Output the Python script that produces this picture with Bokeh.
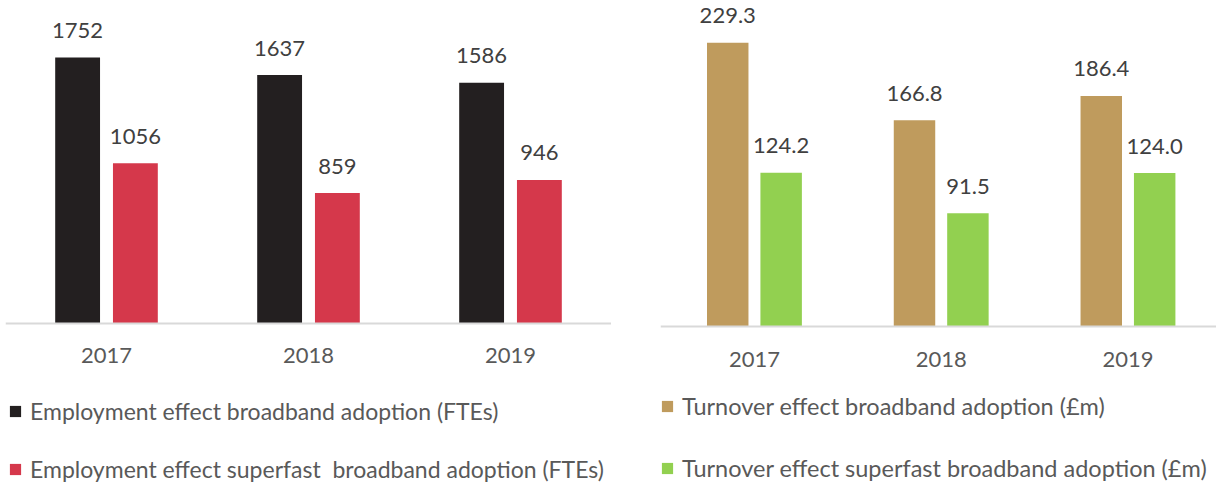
import numpy as np
from bokeh.plotting import figure
from bokeh.layouts import row
from bokeh.models import Range1d, FixedTicker, Legend, LegendItem, ColumnDataSource
from bokeh.core.properties import value
from bokeh.embed import file_html
from bokeh.resources import INLINE

# ---- data ----
years = ["2017", "2018", "2019"]
emp_broadband = [1752, 1637, 1586]
emp_superfast = [1056, 859, 946]
turn_broadband = [229.3, 166.8, 186.4]
turn_superfast = [124.2, 91.5, 124.0]
emp_names = ["Employment effect broadband adoption (FTEs)",
             "Employment effect superfast  broadband adoption (FTEs)"]
turn_names = ["Turnover effect broadband adoption (£m)",
              "Turnover effect superfast broadband adoption (£m)"]

FONT = "Lato"


def make_chart(width, left_border, xr, yr, s1, s2, colors, names, fmt,
               tick_standoff, spacing, leg_loc, leg_size):
    p = figure(width=width, height=483, output_backend="svg", toolbar_location=None,
               x_range=Range1d(*xr), y_range=Range1d(*yr),
               y_axis_location=None, min_border_top=0, min_border_left=left_border,
               min_border_right=0, min_border_bottom=0)
    p.outline_line_color = None
    p.xgrid.visible = False
    p.ygrid.visible = False
    idx = np.arange(len(years))
    off, w = 0.143, 0.222
    src = ColumnDataSource(dict(x1=idx - off, x2=idx + off, v1=s1, v2=s2,
                                t1=[fmt.format(v) for v in s1],
                                t2=[fmt.format(v) for v in s2]))
    r1 = p.vbar(x="x1", top="v1", width=w, bottom=0, source=src,
                fill_color=colors[0], line_color=None)
    r2 = p.vbar(x="x2", top="v2", width=w, bottom=0, source=src,
                fill_color=colors[1], line_color=None)
    for xc, yc, tc in (("x1", "v1", "t1"), ("x2", "v2", "t2")):
        p.text(x=xc, y=yc, text=tc, source=src, text_align="center",
               text_baseline="alphabetic", y_offset=-27,
               text_font=value(FONT), text_font_size="22px", text_color="#404040")
    ax = p.xaxis[0]
    ax.fixed_location = 0
    ax.ticker = FixedTicker(ticks=list(idx))
    ax.major_label_overrides = {int(i): y for i, y in zip(idx, years)}
    ax.axis_line_color = "#d9d9d9"
    ax.axis_line_width = 2
    ax.major_tick_line_color = None
    ax.minor_tick_line_color = None
    ax.major_tick_out = 0
    ax.major_tick_in = 0
    ax.major_label_standoff = tick_standoff
    ax.major_label_text_font = FONT
    ax.major_label_text_font_size = "22px"
    ax.major_label_text_color = "#595959"
    legend = Legend(items=[LegendItem(label=names[0], renderers=[r1]),
                           LegendItem(label=names[1], renderers=[r2])],
                    location=leg_loc, orientation="vertical", margin=0, padding=0,
                    spacing=spacing, glyph_width=14, glyph_height=14, label_standoff=8,
                    label_text_font=FONT, label_text_font_size=leg_size,
                    label_text_color="#595959", border_line_color=None,
                    background_fill_alpha=0)
    p.add_layout(legend)
    return p


p1 = make_chart(611, 5, (-0.5, 2.5), (-1054, 2128), emp_broadband, emp_superfast,
                ["#231f20", "#d5384b"], emp_names, "{:.0f}", 24, 30, (3, 0), "23px")
p2 = make_chart(605, 49, (-0.503, 2.474), (-126.9, 263.5), turn_broadband, turn_superfast,
                ["#bf9b5d", "#92d050"], turn_names, "{:.1f}", 25, 34, (0, 1), "23.5px")

layout = row(p1, p2)
open("out.html", "w").write(file_html(layout, INLINE))
